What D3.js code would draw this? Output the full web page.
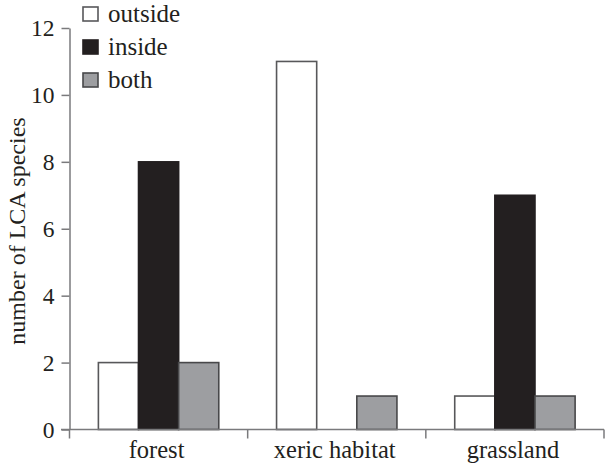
<!DOCTYPE html>
<html>
<head>
<meta charset="utf-8">
<script src="https://cdn.jsdelivr.net/npm/d3@7"></script>
<style>
  html, body { margin: 0; padding: 0; background: #fff; }
</style>
</head>
<body>
<svg id="chart" width="606" height="464"></svg>
<script>
const categories = ["forest", "xeric habitat", "grassland"];
const seriesNames = ["outside", "inside", "both"];
const outsideValues = [2, 11, 1];
const insideValues = [8, 0, 7];
const bothValues = [2, 1, 1];
const yTicks = [0, 2, 4, 6, 8, 10, 12];
const yLabel = "number of LCA species";

const seriesValues = [outsideValues, insideValues, bothValues];
const fills = ["#ffffff", "#231f20", "#9d9ea1"];
const strokes = ["#58585a", "#231f20", "#48484a"];

const FONT = "'Liberation Serif', 'DejaVu Serif', Times, serif";
const TEXT_COLOR = "#231f20";
const svg = d3.select("#chart");

function styleText(sel, size) {
  sel.style("font-family", FONT).style("font-size", size + "px").style("fill", TEXT_COLOR);
}

const x = d3.scaleBand().domain(categories).range([69.5, 604]).paddingInner(0).paddingOuter(0);
const xs = d3.scaleBand().domain(seriesNames).range([0, x.bandwidth()]).paddingInner(0).paddingOuter(0.72);
const y = d3.scaleLinear().domain([0, 12]).range([429.5, 28]);

// bars
seriesNames.forEach((s, si) => {
  svg.append("g").selectAll("rect")
    .data(categories.map((c, ci) => ({ c, v: seriesValues[si][ci] })).filter(d => d.v > 0))
    .join("rect")
    .attr("x", d => x(d.c) + xs(s))
    .attr("y", d => y(d.v))
    .attr("width", xs.bandwidth())
    .attr("height", d => y(0) - y(d.v))
    .attr("fill", fills[si])
    .attr("stroke", strokes[si])
    .attr("stroke-width", 1.6);
});

// y axis
const yAxis = svg.append("g")
  .attr("transform", "translate(69.5,0)")
  .call(d3.axisLeft(y).tickValues(yTicks).tickFormat(d3.format("d")).tickSize(8).tickPadding(7).tickSizeOuter(0));
yAxis.attr("font-family", null).attr("font-size", null);
yAxis.select(".domain").attr("stroke", "#7a7a7c").attr("stroke-width", 1.5);
yAxis.selectAll(".tick line").attr("stroke", "#7a7a7c").attr("stroke-width", 1.5);
yAxis.selectAll(".tick text").call(styleText, 23.5).attr("dy", "0.33em");

// x axis (line + boundary ticks)
const xg = svg.append("g");
xg.append("line")
  .attr("x1", 61).attr("x2", 604).attr("y1", y(0)).attr("y2", y(0))
  .attr("stroke", "#7a7a7c").attr("stroke-width", 1.5);
const bounds = categories.map(c => x(c)).concat([x.range()[1]]);
xg.selectAll("line.b").data(bounds).join("line").attr("class", "b")
  .attr("x1", d => d).attr("x2", d => d)
  .attr("y1", y(0)).attr("y2", y(0) + 9)
  .attr("stroke", "#7a7a7c").attr("stroke-width", 1.5);
xg.selectAll("text").data(categories).join("text")
  .attr("x", d => x(d) + x.bandwidth() / 2 - 2)
  .attr("y", 457.5)
  .attr("text-anchor", "middle")
  .call(styleText, 24.5)
  .text(d => d);

// y label
svg.append("text")
  .attr("transform", "translate(17,231) rotate(-90)")
  .attr("text-anchor", "middle")
  .attr("dy", "0.35em")
  .call(styleText, 24)
  .text(yLabel);

// legend
const legend = svg.append("g");
seriesNames.forEach((s, i) => {
  const cy = 14 + i * 33;
  legend.append("rect")
    .attr("x", 83).attr("y", cy - 7).attr("width", 15).attr("height", 14)
    .attr("fill", fills[i]).attr("stroke", strokes[i]).attr("stroke-width", 1.6);
  legend.append("text")
    .attr("x", 108).attr("y", cy)
    .attr("dy", "0.32em")
    .call(styleText, 25)
    .text(s);
});
</script>
</body>
</html>
